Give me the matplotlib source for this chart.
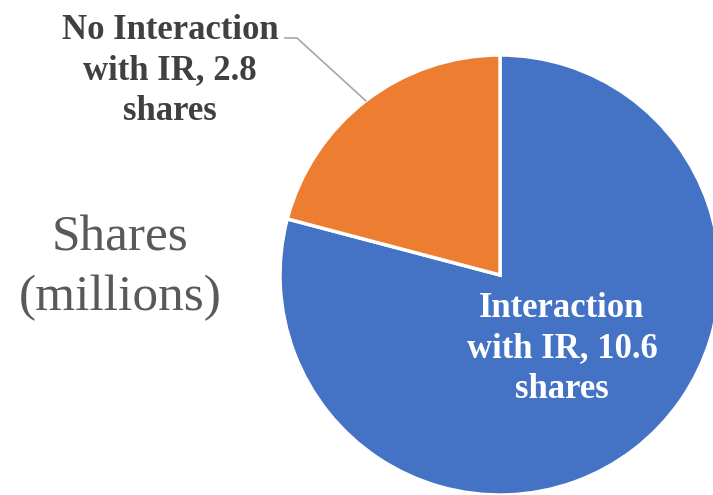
import textwrap

import matplotlib.pyplot as plt
import numpy as np

# data
labels = ["Interaction with IR", "No Interaction with IR"]
shares = [10.6, 2.8]
colors = ["#4472C4", "#ED7D31"]
title = "Shares (millions)"

W, H = 713, 495
fig = plt.figure(figsize=(W / 100, H / 100), dpi=100)
ax = fig.add_axes([0, 0, 1, 1])

cx, cy, r = 500, 220, 220
wedges, _ = ax.pie(shares, colors=colors, startangle=90, counterclock=False,
                   center=(cx, cy), radius=r, frame=True,
                   wedgeprops=dict(edgecolor="white", linewidth=2.5))
ax.set_xlim(0, W)
ax.set_ylim(0, H)
ax.set_aspect("equal")
ax.axis("off")

font = dict(family="Liberation Serif", fontweight="bold", fontsize=25,
            linespacing=1.3, ha="center", va="center")

def wrap(name, val):
    return textwrap.fill(f"{name}, {val} shares", 14)

# inner label (blue)
ax.text(562, 146, wrap(labels[0], shares[0]), color="white", **font)

# outer label (orange) with leader line
w = wedges[1]
mid = np.deg2rad((w.theta1 + w.theta2) / 2)
ex, ey = cx + r * np.cos(mid), cy + r * np.sin(mid)
ax.plot([ex, 297, 285], [ey, 457, 457], color="#A6A6A6", lw=1.2)
ax.text(170, 424, wrap(labels[1], shares[1]), color="#404040", **font)

ax.text(120, 227, textwrap.fill(title, 10), color="#595959", family="Liberation Serif",
        fontsize=37, ha="center", va="center", linespacing=1.35)

fig.savefig("out.png", dpi=100)
